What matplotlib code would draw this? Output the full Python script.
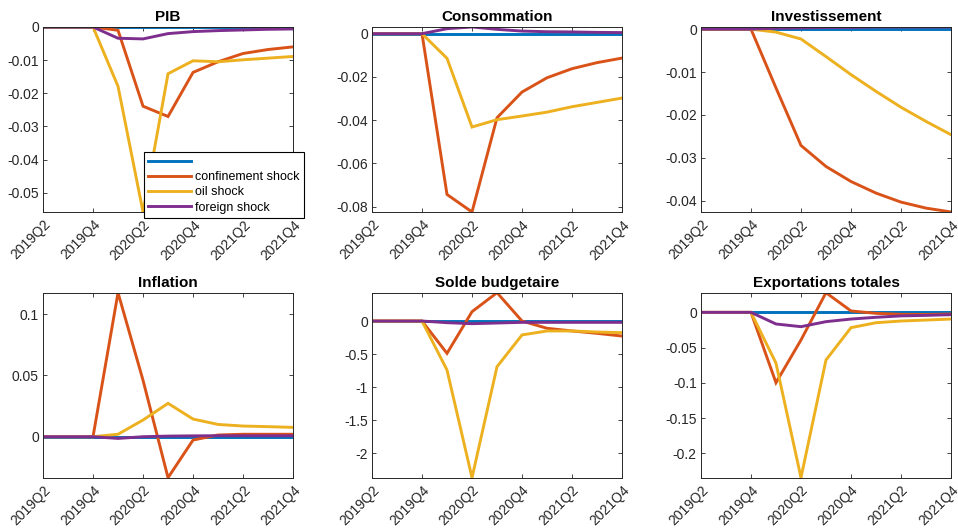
import numpy as np
import matplotlib
matplotlib.use("Agg")
import matplotlib.pyplot as plt

plt.rcParams["font.family"] = ["Liberation Sans", "DejaVu Sans"]
plt.rcParams["axes.unicode_minus"] = False

quarters = ["2019Q2", "2019Q3", "2019Q4", "2020Q1", "2020Q2", "2020Q3",
            "2020Q4", "2021Q1", "2021Q2", "2021Q3", "2021Q4"]
labels = ["", "confinement shock", "oil shock", "foreign shock"]

# impulse responses: baseline, confinement, oil, foreign
pib_base = [0, 0, 0, 0, 0, 0, 0, 0, 0, 0, 0]
pib_conf = [0, 0, 0, -0.001, -0.0239, -0.027, -0.0137, -0.0105, -0.0080, -0.0068, -0.0060]
pib_oil = [0, 0, 0, -0.0179, -0.0558, -0.0141, -0.0102, -0.0105, -0.0099, -0.0094, -0.0089]
pib_for = [0, 0, 0, -0.0034, -0.0036, -0.0020, -0.0014, -0.0011, -0.0009, -0.0007, -0.0006]

conso_base = [0, 0, 0, 0, 0, 0, 0, 0, 0, 0, 0]
conso_conf = [0, 0, 0, -0.0744, -0.0825, -0.0389, -0.0270, -0.0204, -0.0162, -0.0134, -0.0113]
conso_oil = [0, 0, 0, -0.0114, -0.0432, -0.0398, -0.0381, -0.0363, -0.0338, -0.0318, -0.0298]
conso_for = [0, 0, 0, 0.0023, 0.0031, 0.0020, 0.0012, 0.0009, 0.0008, 0.0006, 0.0005]

inv_base = [0, 0, 0, 0, 0, 0, 0, 0, 0, 0, 0]
inv_conf = [0, 0, 0, -0.0137, -0.0271, -0.0320, -0.0355, -0.0382, -0.0403, -0.0417, -0.0426]
inv_oil = [0, 0, 0, -0.0007, -0.0023, -0.0064, -0.0106, -0.0145, -0.0182, -0.0215, -0.0246]
inv_for = [0, 0, 0, 0.0002, 0.0003, 0.0004, 0.0004, 0.0005, 0.0005, 0.0005, 0.0005]

infl_base = [0, 0, 0, 0, 0, 0, 0, 0, 0, 0, 0]
infl_conf = [0, 0, 0, 0.1174, 0.046, -0.0334, -0.0027, 0.0014, 0.002, 0.002, 0.002]
infl_oil = [0, 0, 0, 0.002, 0.0136, 0.0272, 0.0144, 0.0100, 0.0087, 0.0082, 0.0076]
infl_for = [0, 0, 0, -0.0014, 0, 0.0005, 0.0007, 0.0008, 0.0008, 0.0008, 0.0008]

solde_base = [0, 0, 0, 0, 0, 0, 0, 0, 0, 0, 0]
solde_conf = [0, 0, 0, -0.488, 0.141, 0.428, 0, -0.11, -0.15, -0.186, -0.227]
solde_oil = [0, 0, 0, -0.74, -2.366, -0.69, -0.21, -0.15, -0.15, -0.166, -0.176]
solde_for = [0, 0, 0, -0.025, -0.04, -0.03, -0.02, -0.02, -0.02, -0.02, -0.02]

exp_base = [0, 0, 0, 0, 0, 0, 0, 0, 0, 0, 0]
exp_conf = [0, 0, 0, -0.0998, -0.0392, 0.0279, 0.002, -0.0014, -0.0028, -0.003, -0.0024]
exp_oil = [0, 0, 0, -0.072, -0.2345, -0.0676, -0.0217, -0.0147, -0.0123, -0.0109, -0.0095]
exp_for = [0, 0, 0, -0.0165, -0.0203, -0.0132, -0.0095, -0.0070, -0.0050, -0.0043, -0.0033]

panels = [
    ("PIB", [pib_base, pib_conf, pib_oil, pib_for], [-0.05, -0.04, -0.03, -0.02, -0.01, 0]),
    ("Consommation", [conso_base, conso_conf, conso_oil, conso_for], [-0.08, -0.06, -0.04, -0.02, 0]),
    ("Investissement", [inv_base, inv_conf, inv_oil, inv_for], [-0.04, -0.03, -0.02, -0.01, 0]),
    ("Inflation", [infl_base, infl_conf, infl_oil, infl_for], [0, 0.05, 0.1]),
    ("Solde budgetaire", [solde_base, solde_conf, solde_oil, solde_for], [-2, -1.5, -1, -0.5, 0]),
    ("Exportations totales", [exp_base, exp_conf, exp_oil, exp_for], [-0.2, -0.15, -0.1, -0.05, 0]),
]

colors = ["#0072BD", "#D95319", "#EDB120", "#7E2F8E"]
dark = (0.15, 0.15, 0.15)

fig = plt.figure(figsize=(9.58, 5.31), dpi=100)
lefts = [0.0449, 0.3883, 0.7317]
bottoms = [0.6008, 0.1004]
w, h = 0.261, 0.3484

x = np.arange(len(quarters))
for k, (title, series, yt) in enumerate(panels):
    ax = fig.add_axes([lefts[k % 3], bottoms[k // 3], w, h])
    handles = []
    for s, c in zip(series, colors):
        ln, = ax.plot(x, s, color=c, lw=2.1, solid_joinstyle="miter")
        handles.append(ln)
    # tight limits around all four responses
    allv = np.concatenate([np.asarray(s, float) for s in series])
    ax.set_xlim(x[0], x[-1])
    ax.set_ylim(allv.min(), allv.max())
    ax.set_xticks(x[::2])
    ax.set_xticklabels(quarters[::2], rotation=45, ha="right", va="top",
                       rotation_mode="anchor")
    ax.set_yticks(yt)
    ax.set_yticklabels(["%g" % v if v != 0 else "0" for v in yt])
    ax.tick_params(direction="in", top=True, right=True, length=3, width=0.6,
                   labelsize=10, colors=dark, pad=3)
    ax.tick_params(axis="x", pad=4)
    for sp in ax.spines.values():
        sp.set_color(dark)
        sp.set_linewidth(0.7)
    ax.set_title(title, fontsize=11, fontweight="bold", pad=4)
    if k == 0:
        leg = ax.legend(handles, labels, loc="upper left", bbox_to_anchor=(0.404, 0.325),
                        borderaxespad=0, fontsize=9, handlelength=3.4, handletextpad=0.3,
                        labelspacing=0.25, borderpad=0.35, fancybox=False, framealpha=1,
                        edgecolor="black")
        leg.get_frame().set_linewidth(0.8)
        leg.set_zorder(5)

fig.savefig("out.png", dpi=100)
